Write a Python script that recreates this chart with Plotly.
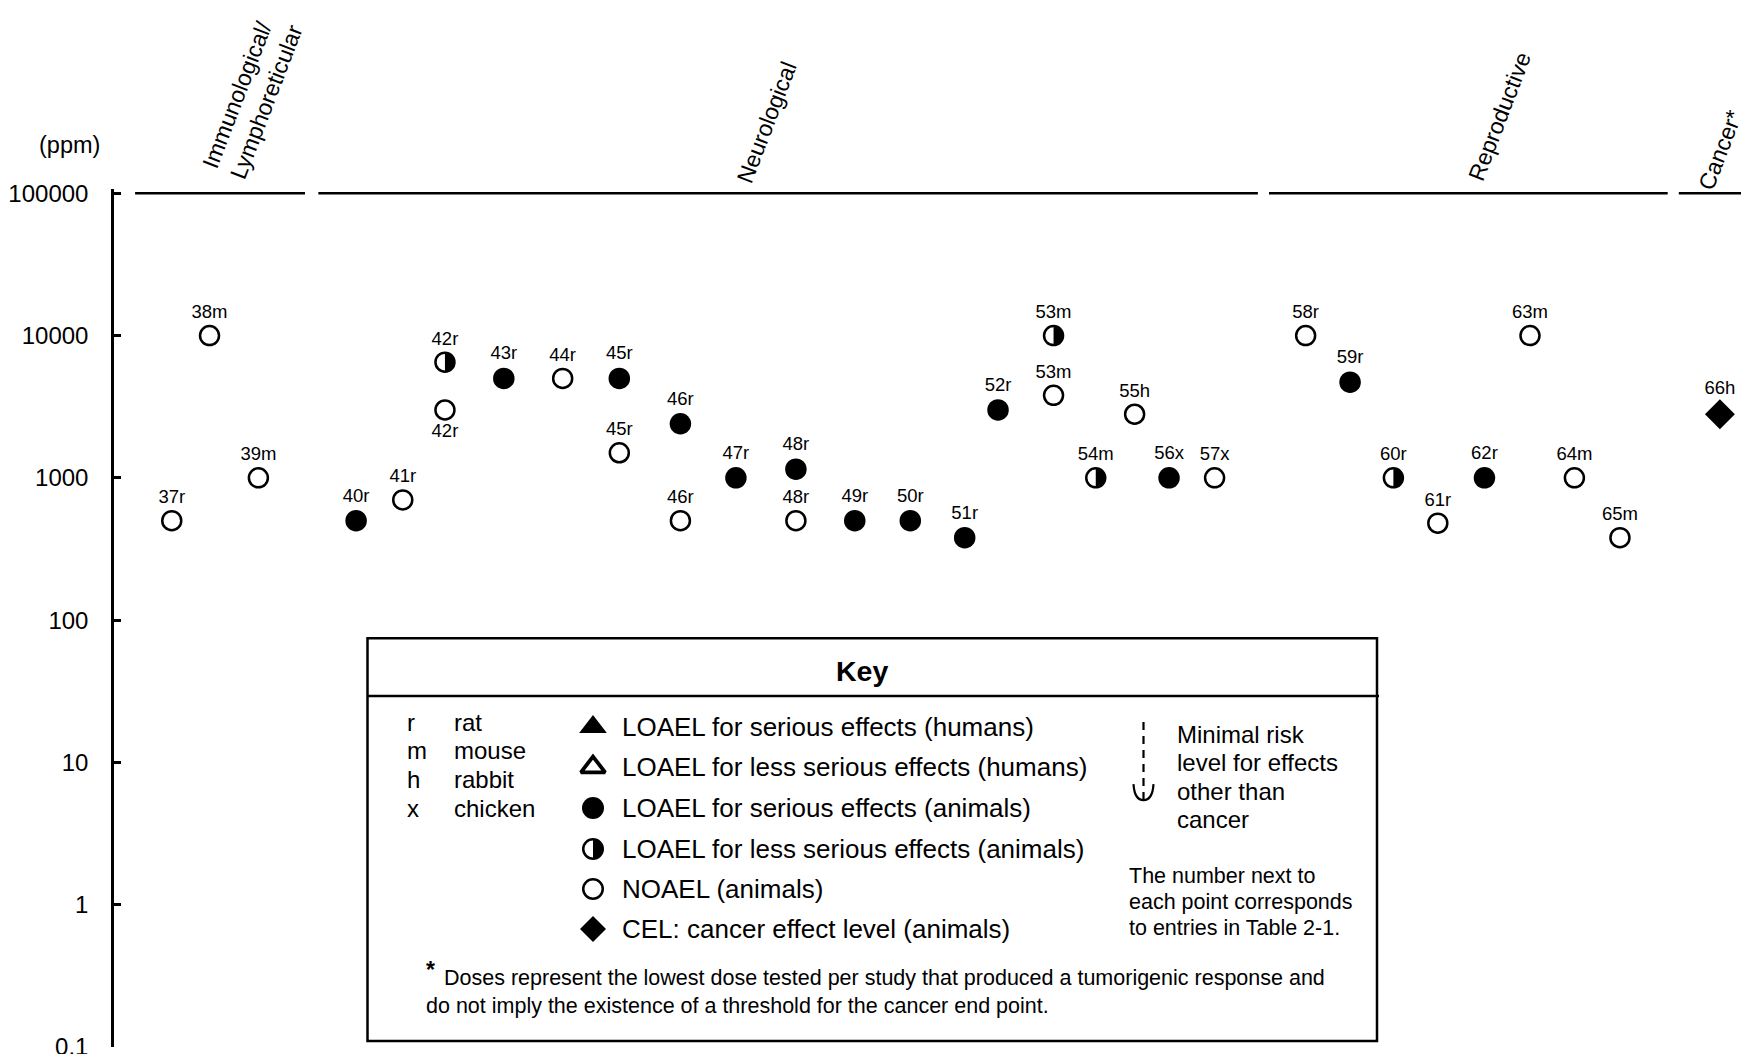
import numpy as np
import plotly.graph_objects as go

# ---------------- data ----------------
study_labels = ["37r", "38m", "39m",
                "40r", "41r", "42r", "42r", "43r", "44r", "45r", "45r", "46r", "46r",
                "47r", "48r", "48r", "49r", "50r", "51r", "52r", "53m", "53m", "54m", "55h", "56x", "57x",
                "58r", "59r", "60r", "61r", "62r", "63m", "64m", "65m", "66h"]
study_position = [1.04, 1.72, 2.60,
                  4.36, 5.20, 5.96, 5.96, 7.02, 8.08, 9.10, 9.10, 10.20, 10.20,
                  11.20, 12.28, 12.28, 13.34, 14.34, 15.32, 15.92, 16.92, 16.92, 17.68, 18.38, 19.00, 19.82,
                  21.46, 22.26, 23.04, 23.84, 24.68, 25.50, 26.30, 27.12, 28.92]
dose_ppm = [500, 10000, 1000,
            500, 700, 6500, 3000, 5000, 5000, 5000, 1500, 2400, 500,
            1000, 1150, 500, 500, 500, 380, 3000, 10000, 3800, 1000, 2800, 1000, 1000,
            10000, 4700, 1000, 480, 1000, 10000, 1000, 380, 2800]
effect_level = ["NOAEL", "NOAEL", "NOAEL",
                "serious", "NOAEL", "less", "NOAEL", "serious", "NOAEL", "serious", "NOAEL", "serious", "NOAEL",
                "serious", "serious", "NOAEL", "serious", "serious", "serious", "serious", "less", "NOAEL", "less",
                "NOAEL", "serious", "NOAEL",
                "NOAEL", "serious", "less", "NOAEL", "serious", "NOAEL", "NOAEL", "NOAEL", "CEL"]

categories = ["Immunological/<br>Lymphoreticular", "Neurological", "Reproductive", "Cancer*"]
category_start = [0.38, 3.68, 20.80, 28.18]
category_end = [3.44, 20.60, 27.98, 29.40]

tick_values = [0.1, 1, 10, 100, 1000, 10000, 100000]
tick_labels = ["0.1", "1", "10", "100", "1000", "10000", "100000"]

species_codes = ["r", "m", "h", "x"]
species_names = ["rat", "mouse", "rabbit", "chicken"]
key_effects = ["LOAEL for serious effects (humans)",
               "LOAEL for less serious effects (humans)",
               "LOAEL for serious effects (animals)",
               "LOAEL for less serious effects (animals)",
               "NOAEL (animals)",
               "CEL: cancer effect level (animals)"]

# ---------------- geometry ----------------
W, H = 1741, 1054
DEC = 854 / 6.0           # pixels per decade
TOP_EXTRA = 0.03          # decades above 100000
ML, MR, MB = 114, 0, 7
MT = 193 - TOP_EXTRA * DEC
PW = W - ML - MR
PH = H - MT - MB
XMAX = 29.3
FONT = "Liberation Sans, Arial, Helvetica, sans-serif"


def pxx(px):
    return (px - ML) / PW


def pxy(py):
    return (H - MB - py) / PH


below_label = {6}
text_pos = ["bottom center" if i in below_label else "top center" for i in range(len(study_labels))]

fig = go.Figure()

# category separator segments at the top
seg_x, seg_y = [], []
for s, e in zip(category_start, category_end):
    seg_x += [s, e, None]
    seg_y += [100000, 100000, None]
fig.add_trace(go.Scatter(x=seg_x, y=seg_y, mode="lines", line=dict(color="black", width=2.5),
                         hoverinfo="skip", showlegend=False, cliponaxis=False))

# half-filled circles: right half fill
R_HALF = 10.0
hx, hy = [], []
th = np.linspace(-np.pi / 2, np.pi / 2, 31)
for i, t in enumerate(effect_level):
    if t == "less":
        x0, y0 = study_position[i], dose_ppm[i]
        hx += list(x0 + R_HALF * np.cos(th) / (PW / XMAX)) + [None]
        hy += list(y0 * 10 ** (R_HALF * np.sin(th) / DEC)) + [None]
fig.add_trace(go.Scatter(x=hx, y=hy, mode="lines", fill="toself", fillcolor="black",
                         line=dict(width=0, color="black"), hoverinfo="skip", showlegend=False))

styles = {
    "NOAEL": dict(symbol="circle", size=19, color="white", line=dict(color="black", width=2.5)),
    "serious": dict(symbol="circle", size=21.5, color="black", line=dict(color="black", width=0)),
    "less": dict(symbol="circle-open", size=19, color="black", line=dict(color="black", width=2.5)),
    "CEL": dict(symbol="diamond", size=23, color="black", line=dict(color="black", width=0)),
}
for t, st in styles.items():
    idx = [i for i, e in enumerate(effect_level) if e == t]
    fig.add_trace(go.Scatter(
        x=[study_position[i] for i in idx], y=[dose_ppm[i] for i in idx],
        text=[study_labels[i] for i in idx], textposition=[text_pos[i] for i in idx],
        mode="markers+text", marker=st, textfont=dict(family=FONT, size=18.5, color="black"),
        cliponaxis=False, showlegend=False, name=t))

# ---------------- key markers (overlay axes in paper units) ----------------
KEY_SYM_X = 593
key_rows = [727, 767, 808, 849, 889, 929]
key_styles = [
    dict(symbol="triangle-up", size=24, color="black"),
    dict(symbol="triangle-up-open", size=21, color="black", line=dict(width=3.8, color="black")),
    dict(symbol="circle", size=22, color="black"),
    dict(symbol="circle-open", size=19.5, color="black", line=dict(width=2.5, color="black")),
    dict(symbol="circle-open", size=19.5, color="black", line=dict(width=2.5, color="black")),
    dict(symbol="diamond", size=20, color="black"),
]
for row, st in zip(key_rows, key_styles):
    fig.add_trace(go.Scatter(x=[pxx(KEY_SYM_X)], y=[pxy(row)], mode="markers", marker=st,
                             xaxis="x2", yaxis="y2", cliponaxis=False, showlegend=False, hoverinfo="skip"))
# half fill for key half-circle
cx, cy = pxx(KEY_SYM_X), pxy(key_rows[3])
kx = list(cx + 10 * np.cos(th) / PW)
ky = list(cy + 10 * np.sin(th) / PH)
fig.add_trace(go.Scatter(x=kx, y=ky, mode="lines", fill="toself", fillcolor="black",
                         line=dict(width=0, color="black"), xaxis="x2", yaxis="y2",
                         showlegend=False, hoverinfo="skip"))

annotations = []
# category labels
cat_label_x = [2.50, 11.76, 24.96, 28.93]
cat_label_y = [96, 122, 116, 150]
for name, xc, yc in zip(categories, cat_label_x, cat_label_y):
    annotations.append(dict(x=xc, xref="x", y=pxy(yc), yref="paper", text=name, showarrow=False,
                            textangle=-69, align="left", xanchor="center", yanchor="middle",
                            font=dict(family=FONT, size=23, color="black")))
# (ppm)
annotations.append(dict(x=pxx(69), y=pxy(145), xref="paper", yref="paper", text="(ppm)", showarrow=False,
                        xanchor="center", yanchor="middle", font=dict(family=FONT, size=23.5, color="black")))
# Key title
annotations.append(dict(x=pxx(862), y=pxy(671), xref="paper", yref="paper", text="<b>Key</b>",
                        showarrow=False, xanchor="center", yanchor="middle",
                        font=dict(family=FONT, size=28.5, color="black")))
# species
for k, (c, n) in enumerate(zip(species_codes, species_names)):
    yy = pxy(722 + k * 28.8)
    annotations.append(dict(x=pxx(405), y=yy, xref="paper", yref="paper", text=c, showarrow=False,
                            xanchor="left", yanchor="middle", font=dict(family=FONT, size=24, color="black")))
    annotations.append(dict(x=pxx(452), y=yy, xref="paper", yref="paper", text=n, showarrow=False,
                            xanchor="left", yanchor="middle", font=dict(family=FONT, size=24, color="black")))
# effects text
for row, txt in zip(key_rows, key_effects):
    annotations.append(dict(x=pxx(620), y=pxy(row), xref="paper", yref="paper", text=txt, showarrow=False,
                            xanchor="left", yanchor="middle", font=dict(family=FONT, size=26, color="black")))
# MRL text
for k, txt in enumerate(["Minimal risk", "level for effects", "other than", "cancer"]):
    annotations.append(dict(x=pxx(1175), y=pxy(734 + k * 28.5), xref="paper", yref="paper", text=txt,
                            showarrow=False, xanchor="left", yanchor="middle",
                            font=dict(family=FONT, size=24, color="black")))
for k, txt in enumerate(["The number next to", "each point corresponds", "to entries in Table 2-1."]):
    annotations.append(dict(x=pxx(1127), y=pxy(876 + k * 26), xref="paper", yref="paper", text=txt,
                            showarrow=False, xanchor="left", yanchor="middle",
                            font=dict(family=FONT, size=21.5, color="black")))
# footnote
annotations.append(dict(x=pxx(424), y=pxy(970), xref="paper", yref="paper", text="<b>*</b>",
                        showarrow=False, xanchor="left", yanchor="middle",
                        font=dict(family=FONT, size=23, color="black")))
annotations.append(dict(x=pxx(442), y=pxy(978), xref="paper", yref="paper",
                        text="Doses represent the lowest dose tested per study that produced a tumorigenic response and",
                        showarrow=False, xanchor="left", yanchor="middle",
                        font=dict(family=FONT, size=21.5, color="black")))
annotations.append(dict(x=pxx(424), y=pxy(1006), xref="paper", yref="paper",
                        text="do not imply the existence of a threshold for the cancer end point.",
                        showarrow=False, xanchor="left", yanchor="middle",
                        font=dict(family=FONT, size=21.5, color="black")))

shapes = []
# key box
shapes.append(dict(type="rect", xref="paper", yref="paper", x0=pxx(367.5), x1=pxx(1377),
                   y0=pxy(1041), y1=pxy(638), line=dict(color="black", width=2.5)))
shapes.append(dict(type="line", xref="paper", yref="paper", x0=pxx(367.5), x1=pxx(1379),
                   y0=pxy(696), y1=pxy(696), line=dict(color="black", width=2.5)))
# MRL symbol
mx = 1143.5
shapes.append(dict(type="line", xref="paper", yref="paper", x0=pxx(mx), x1=pxx(mx),
                   y0=pxy(722), y1=pxy(799), line=dict(color="black", width=2.2, dash="8px,6px")))
path = "M {:.5f},{:.5f} Q {:.5f},{:.5f} {:.5f},{:.5f} Q {:.5f},{:.5f} {:.5f},{:.5f}".format(
    pxx(mx - 10), pxy(784), pxx(mx - 9), pxy(800), pxx(mx), pxy(800),
    pxx(mx + 9), pxy(800), pxx(mx + 10), pxy(784))
shapes.append(dict(type="path", xref="paper", yref="paper", path=path, line=dict(color="black", width=2.2)))

fig.update_layout(
    width=W, height=H,
    margin=dict(l=ML, r=MR, t=MT, b=MB, pad=0, autoexpand=False),
    paper_bgcolor="white", plot_bgcolor="white",
    showlegend=False,
    xaxis=dict(range=[0, XMAX], visible=False, fixedrange=True, automargin=False),
    yaxis=dict(type="log", range=[-1, 5 + TOP_EXTRA], showline=True, linecolor="black", linewidth=2.5,
               ticks="inside", ticklen=7, tickwidth=2.5, tickcolor="black",
               tickvals=tick_values, ticktext=tick_labels, showgrid=False, zeroline=False,
               ticklabeloverflow="allow", automargin=False,
               tickfont=dict(family=FONT, size=24, color="black"), ticklabelstandoff=18, fixedrange=True),
    xaxis2=dict(range=[0, 1], overlaying="x", anchor="y2", visible=False, fixedrange=True),
    yaxis2=dict(range=[0, 1], overlaying="y", anchor="x2", visible=False, fixedrange=True),
    annotations=annotations,
    shapes=shapes,
)

fig.write_html("out.html", config={"displayModeBar": False},
               post_script="document.body.style.margin='0';document.body.style.overflow='hidden';"
                           "document.documentElement.style.overflow='hidden';")
